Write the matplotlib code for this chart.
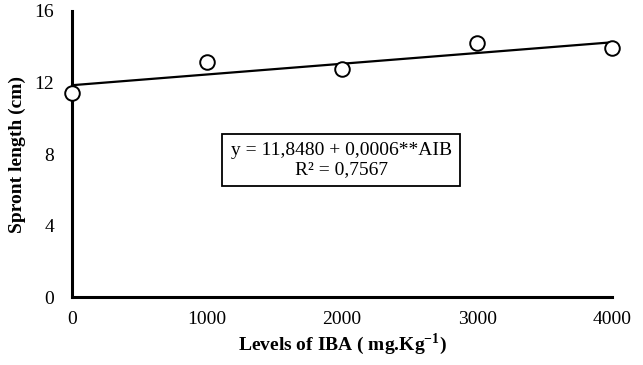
import matplotlib.pyplot as plt

iba = [0, 1000, 2000, 3000, 4000]
sprout = [11.41, 13.15, 12.76, 14.2, 13.93]
a, b = 11.848, 0.0006

plt.rcParams['font.family'] = 'Liberation Serif'
plt.rcParams['mathtext.fontset'] = 'custom'
plt.rcParams['mathtext.rm'] = 'Liberation Serif'
plt.rcParams['mathtext.bf'] = 'Liberation Serif:bold'

fig = plt.figure(figsize=(6.43, 3.65), dpi=100)
ax = fig.add_axes([0.112, 0.186, 0.84, 0.784])

fit_x = [iba[0], iba[-1]]
fit_y = [a + b * x for x in fit_x]
ax.plot(fit_x, fit_y, color='black', linewidth=1.6, zorder=2)
ax.plot(iba, sprout, linestyle='none', marker='o', markersize=10.5,
        markerfacecolor='white', markeredgecolor='black', markeredgewidth=1.4,
        zorder=3, clip_on=False)

ax.set_xlim(0, 4000)
ax.set_ylim(0, 16)
ax.set_xticks([0, 1000, 2000, 3000, 4000])
ax.set_yticks([0, 4, 8, 12, 16])
ax.tick_params(length=0, labelsize=14)
ax.tick_params(axis='x', pad=10)
ax.tick_params(axis='y', pad=13)

for s in ['top', 'right']:
    ax.spines[s].set_visible(False)
for s in ['left', 'bottom']:
    ax.spines[s].set_linewidth(2.2)

ax.set_ylabel('Spront length (cm)', fontsize=14, fontweight='bold', labelpad=6)
ax.set_xlabel('Levels of IBA ( mg.Kg$^{\\mathbf{-1}}$)', fontsize=14,
              fontweight='bold', labelpad=2)

ax.text(1993, 7.66, 'y = 11,8480 + 0,0006**AIB\nR² = 0,7567', ha='center',
        va='center', fontsize=14, linespacing=1.1,
        bbox=dict(boxstyle='square,pad=0.42', facecolor='white',
                  edgecolor='black', linewidth=1.3))

plt.savefig('out.png', dpi=100)
